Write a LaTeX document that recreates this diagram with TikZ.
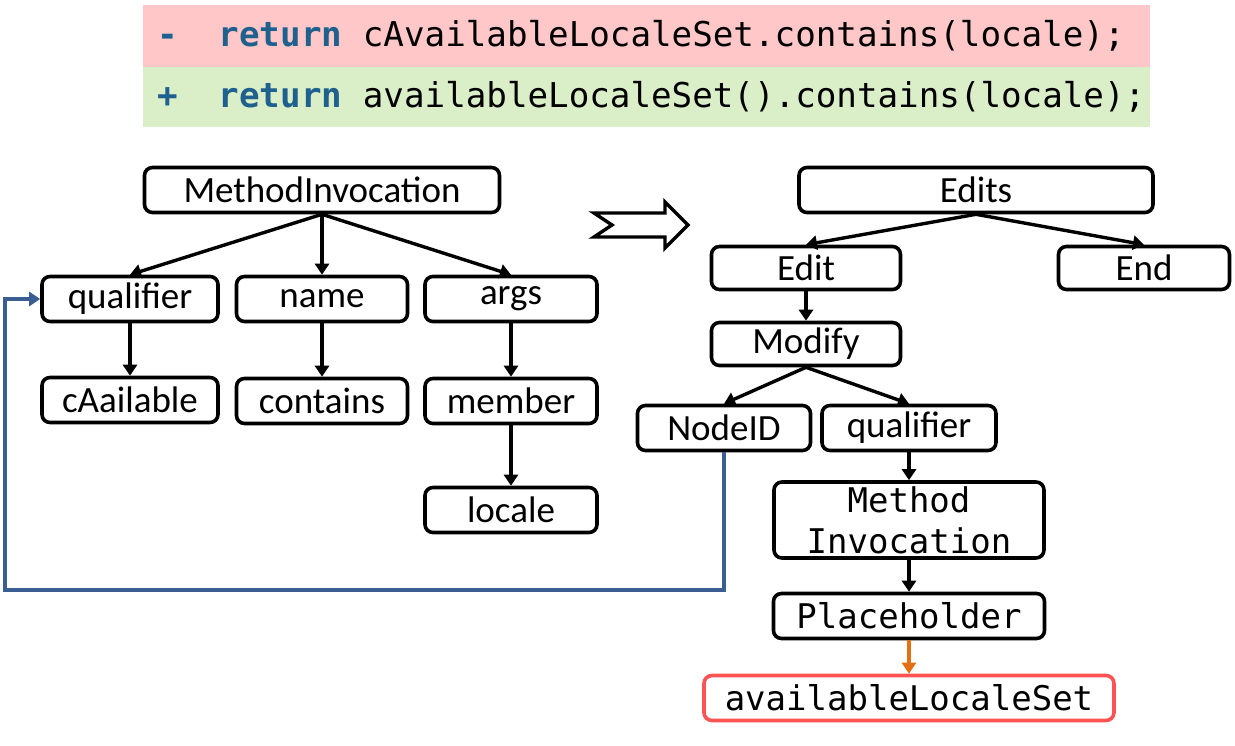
\documentclass[tikz,border=0pt]{standalone}
\usepackage{fontspec}
\setmainfont{Carlito}
\newfontfamily\codefont{DejaVu Sans Mono}
\usetikzlibrary{arrows.meta,positioning}
\definecolor{delred}{RGB}{255,199,199}
\definecolor{addgreen}{RGB}{218,238,200}
\definecolor{kwblue}{RGB}{30,96,142}
\definecolor{linkblue}{RGB}{58,94,145}
\definecolor{phorange}{RGB}{228,112,20}
\definecolor{newred}{RGB}{255,82,82}
\tikzset{
  box/.style={draw,line width=3.6pt,rounded corners=8pt,minimum height=45pt,inner sep=0pt,font=\fontsize{37}{40}\selectfont},
  codebox/.style={box,font=\codefont\fontsize{34}{45}\selectfont,align=center},
  codebar/.style={rectangle,text width=979pt,align=left,inner xsep=14pt,inner ysep=0pt,font=\codefont\fontsize{34.2}{40}\selectfont},
  edge/.style={-{Triangle[length=11pt,width=14pt]},line width=3.4pt},
  link/.style={-{Triangle[length=11pt,width=14pt]},line width=3.4pt,linkblue},
}
\newcommand{\kwret}{\textcolor{kwblue}{\bfseries return}}
\newcommand{\codesp}{\phantom{x}}

\begin{document}
\begin{tikzpicture}[x=1pt,y=-1pt]
  \useasboundingbox (0,0) rectangle (1235,745);
  % diff lines
  \node[codebar,fill=delred,minimum height=62pt] (delline) at (646.5,36)
    {\textcolor{kwblue}{\bfseries -}\codesp\codesp\kwret\codesp cAvailableLocaleSet.contains(locale);};
  \node[codebar,fill=addgreen,minimum height=60pt] (addline) at (646.5,97)
    {\textcolor{kwblue}{\bfseries +}\codesp\codesp\kwret\codesp availableLocaleSet().contains(locale);};
  % old tree
  \node[box,minimum width=355pt] (mi) at (322,190) {MethodInvocation};
  \node[box,minimum width=176pt] (qual) at (130,299) {qualifier};
  \node[box,minimum width=171pt] (name) at (322,299) {name};
  \node[box,minimum width=172pt] (args) at (511,299) {args};
  \node[box,minimum width=176pt] (cav) at (130,400) {cAailable};
  \node[box,minimum width=171pt] (cont) at (322,401) {contains};
  \node[box,minimum width=172pt] (memb) at (511,401) {member};
  \node[box,minimum width=172pt] (loc) at (511,510) {locale};
  \draw[edge] (mi.south) -- (qual.north);
  \draw[edge] (mi.south) -- (name.north);
  \draw[edge] (mi.south) -- (args.north);
  \draw[edge] (qual) -- (cav);
  \draw[edge] (name) -- (cont);
  \draw[edge] (args) -- (memb);
  \draw[edge] (memb) -- (loc);
  % hollow arrow
  \draw[line width=3.4pt,fill=white] (594,213) -- (612,225) -- (594,237) -- (665,237)
    -- (665,248) -- (688,225) -- (665,202) -- (665,213) -- cycle;
  % edit tree
  \node[box,minimum width=354pt] (edits) at (976,190) {Edits};
  \node[box,minimum width=189pt,minimum height=43pt] (edit) at (806,268) {Edit};
  \node[box,minimum width=171pt,minimum height=43pt] (endn) at (1144,268) {End};
  \node[box,minimum width=189pt,minimum height=43pt] (modify) at (806,344) {Modify};
  \node[box,minimum width=173pt] (nodeid) at (724,428) {NodeID};
  \node[box,minimum width=174pt] (rqual) at (909,428) {qualifier};
  \node[codebox,minimum width=270pt,minimum height=76pt] (rmi) at (909,520) {Method\\[-4pt]Invocation};
  \node[codebox,minimum width=271pt] (ph) at (909,616) {Placeholder};
  \node[codebox,minimum width=410pt,draw=newred] (avail) at (909,698) {availableLocaleSet};
  \draw[edge] (edits.south) -- (edit.north);
  \draw[edge] (edits.south) -- (endn.north);
  \draw[edge] (edit) -- (modify);
  \draw[edge] (modify.south) -- (nodeid.north);
  \draw[edge] (modify.south) -- (rqual.north);
  \draw[edge] (rqual) -- (rmi);
  \draw[edge] (rmi) -- (ph);
  \draw[edge,phorange] (ph) -- (avail);
  % back link to the old qualifier
  \coordinate (loopbl) at (5,590);
  \draw[link] (nodeid.south) |- (loopbl) |- (qual.west);
\end{tikzpicture}
\end{document}
